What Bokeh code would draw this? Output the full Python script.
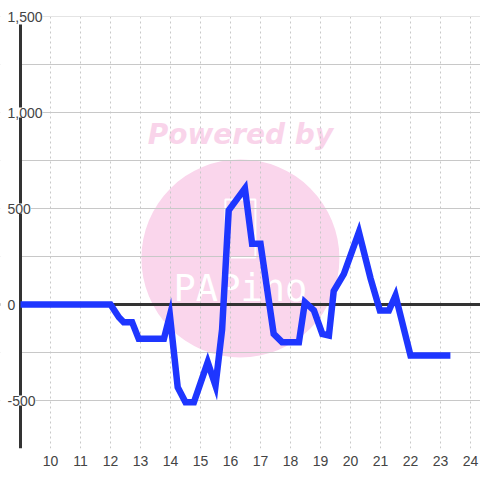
from bokeh.plotting import figure
from bokeh.models import ColumnDataSource, FixedTicker, LabelSet, Span, Range1d, BoxAnnotation
from bokeh.core.properties import value
from bokeh.embed import file_html
from bokeh.resources import INLINE

# ---- data ----
hours = [9.0, 12.0, 12.28, 12.44, 12.72, 12.94, 13.78, 13.98, 14.24, 14.5,
         14.78, 15.24, 15.5, 15.72, 15.94, 16.48, 16.72, 17.0, 17.44, 17.72,
         18.28, 18.48, 18.78, 19.06, 19.28, 19.44, 19.78, 20.28, 20.67, 20.98,
         21.28, 21.5, 22.0, 23.33]
values = [0, 0, -66, -92, -92, -179, -179, -57, -431, -509,
          -509, -300, -422, -130, 490, 605, 316, 316, -153, -196,
          -196, 12, -31, -153, -161, 70, 160, 377, 135, -31,
          -31, 47, -266, -266]

x_ticks = [10, 11, 12, 13, 14, 15, 16, 17, 18, 19, 20, 21, 22, 23, 24]
y_ticks = [-500, 0, 500, 1000, 1500]
y_tick_labels = ["-500", "0", "500", "1,000", "1,500"]
y_grid_levels = [-750, -500, -250, 0, 250, 500, 750, 1000, 1250, 1500]

x_axis_at, x_max = 9.0, 24.333
y_min, y_max = -750, 1500

# layout (pixels)
W, H = 480, 480
left_pad_px, top_pad_px, bottom_px = 20, 16, 32
px_per_x = (W - left_pad_px) / (x_max - x_axis_at)
px_per_y = (H - bottom_px - top_pad_px) / (y_max - y_min)
x_lo = x_axis_at - left_pad_px / px_per_x
y_hi = y_max + top_pad_px / px_per_y
axis_top = y_max - 8 / px_per_y

# watermark placement (decoration, not data)
wm_x, wm_circle_y, wm_text_y, wm_logo_y, wm_rect_y = 16.33, 240, 885, 85, 396

p = figure(width=W, height=H, output_backend="svg", toolbar_location=None,
           x_range=Range1d(x_lo, x_max), y_range=Range1d(y_min, y_hi),
           min_border_left=0, min_border_right=0, min_border_top=0,
           min_border_bottom=bottom_px)
p.background_fill_color = "white"
p.border_fill_color = "white"
p.outline_line_color = None
p.yaxis.visible = False

# watermark
p.scatter([wm_x], [wm_circle_y], size=198, color="#fad6ec", line_color=None, level="image")
p.text([wm_x], [wm_text_y], text=["Powered by"], text_align="center", text_baseline="middle",
       text_font=value("DejaVu Sans"), text_font_style="bold italic",
       text_font_size="28px", text_color="#f9d4ea", level="image")
p.rect([wm_x], [wm_rect_y], width=30, height=58, width_units="screen", height_units="screen",
       fill_color=None, line_color="white", line_width=2, level="image")
p.text([wm_x], [wm_logo_y], text=["PAPino"], text_align="center", text_baseline="middle",
       text_font=value("DejaVu Sans Mono"), text_font_size="37px", text_color="white",
       level="image")

# grids
p.xgrid.ticker = FixedTicker(ticks=x_ticks, minor_ticks=[])
p.xgrid.grid_line_color = "#c8c8c8"
p.xgrid.grid_line_dash = "2 3"
p.xgrid.grid_line_width = 1
p.ygrid.ticker = FixedTicker(ticks=y_grid_levels, minor_ticks=[])
p.ygrid.grid_line_color = "#c8c8c8"
p.ygrid.grid_line_width = 1

# zero line
p.add_layout(Span(location=0, dimension="width", line_color="#333333", line_width=3,
                  level="underlay"))

# blank margins left of the y axis and above the top gridline
p.add_layout(BoxAnnotation(right=x_axis_at, fill_color="white", fill_alpha=1,
                           line_color=None, level="underlay"))
p.add_layout(BoxAnnotation(bottom=y_max, fill_color="white", fill_alpha=1,
                           line_color=None, level="underlay"))

# y axis line
p.add_layout(BoxAnnotation(left=x_axis_at, right=x_axis_at, bottom=y_min, top=axis_top,
                           fill_color=None, line_color="#333333", line_width=3,
                           line_alpha=1, level="underlay"))

# x axis
p.xaxis.ticker = FixedTicker(ticks=x_ticks, minor_ticks=[])
p.xaxis.axis_line_color = None
p.xaxis.major_tick_line_color = None
p.xaxis.minor_tick_line_color = None
p.xaxis.major_tick_out = 0
p.xaxis.major_label_standoff = 7
p.xaxis.major_label_text_font = "Liberation Sans"
p.xaxis.major_label_text_font_size = "14px"
p.xaxis.major_label_text_color = "#444444"

# series
p.line(hours, values, line_width=6.5, line_color="#1e36ff", line_join="miter")

# y tick labels (drawn over the axis line, on white)
lab_src = ColumnDataSource(dict(x=[x_axis_at] * len(y_ticks), y=y_ticks, t=y_tick_labels))
p.add_layout(LabelSet(x="x", y="y", text="t", source=lab_src, x_offset=-13,
                      text_align="left", text_baseline="middle",
                      text_font=value("Liberation Sans"), text_font_size="14px",
                      text_color="#444444", background_fill_color="white",
                      level="overlay"))

html = file_html(p, INLINE)
open("out.html", "w").write(html)
